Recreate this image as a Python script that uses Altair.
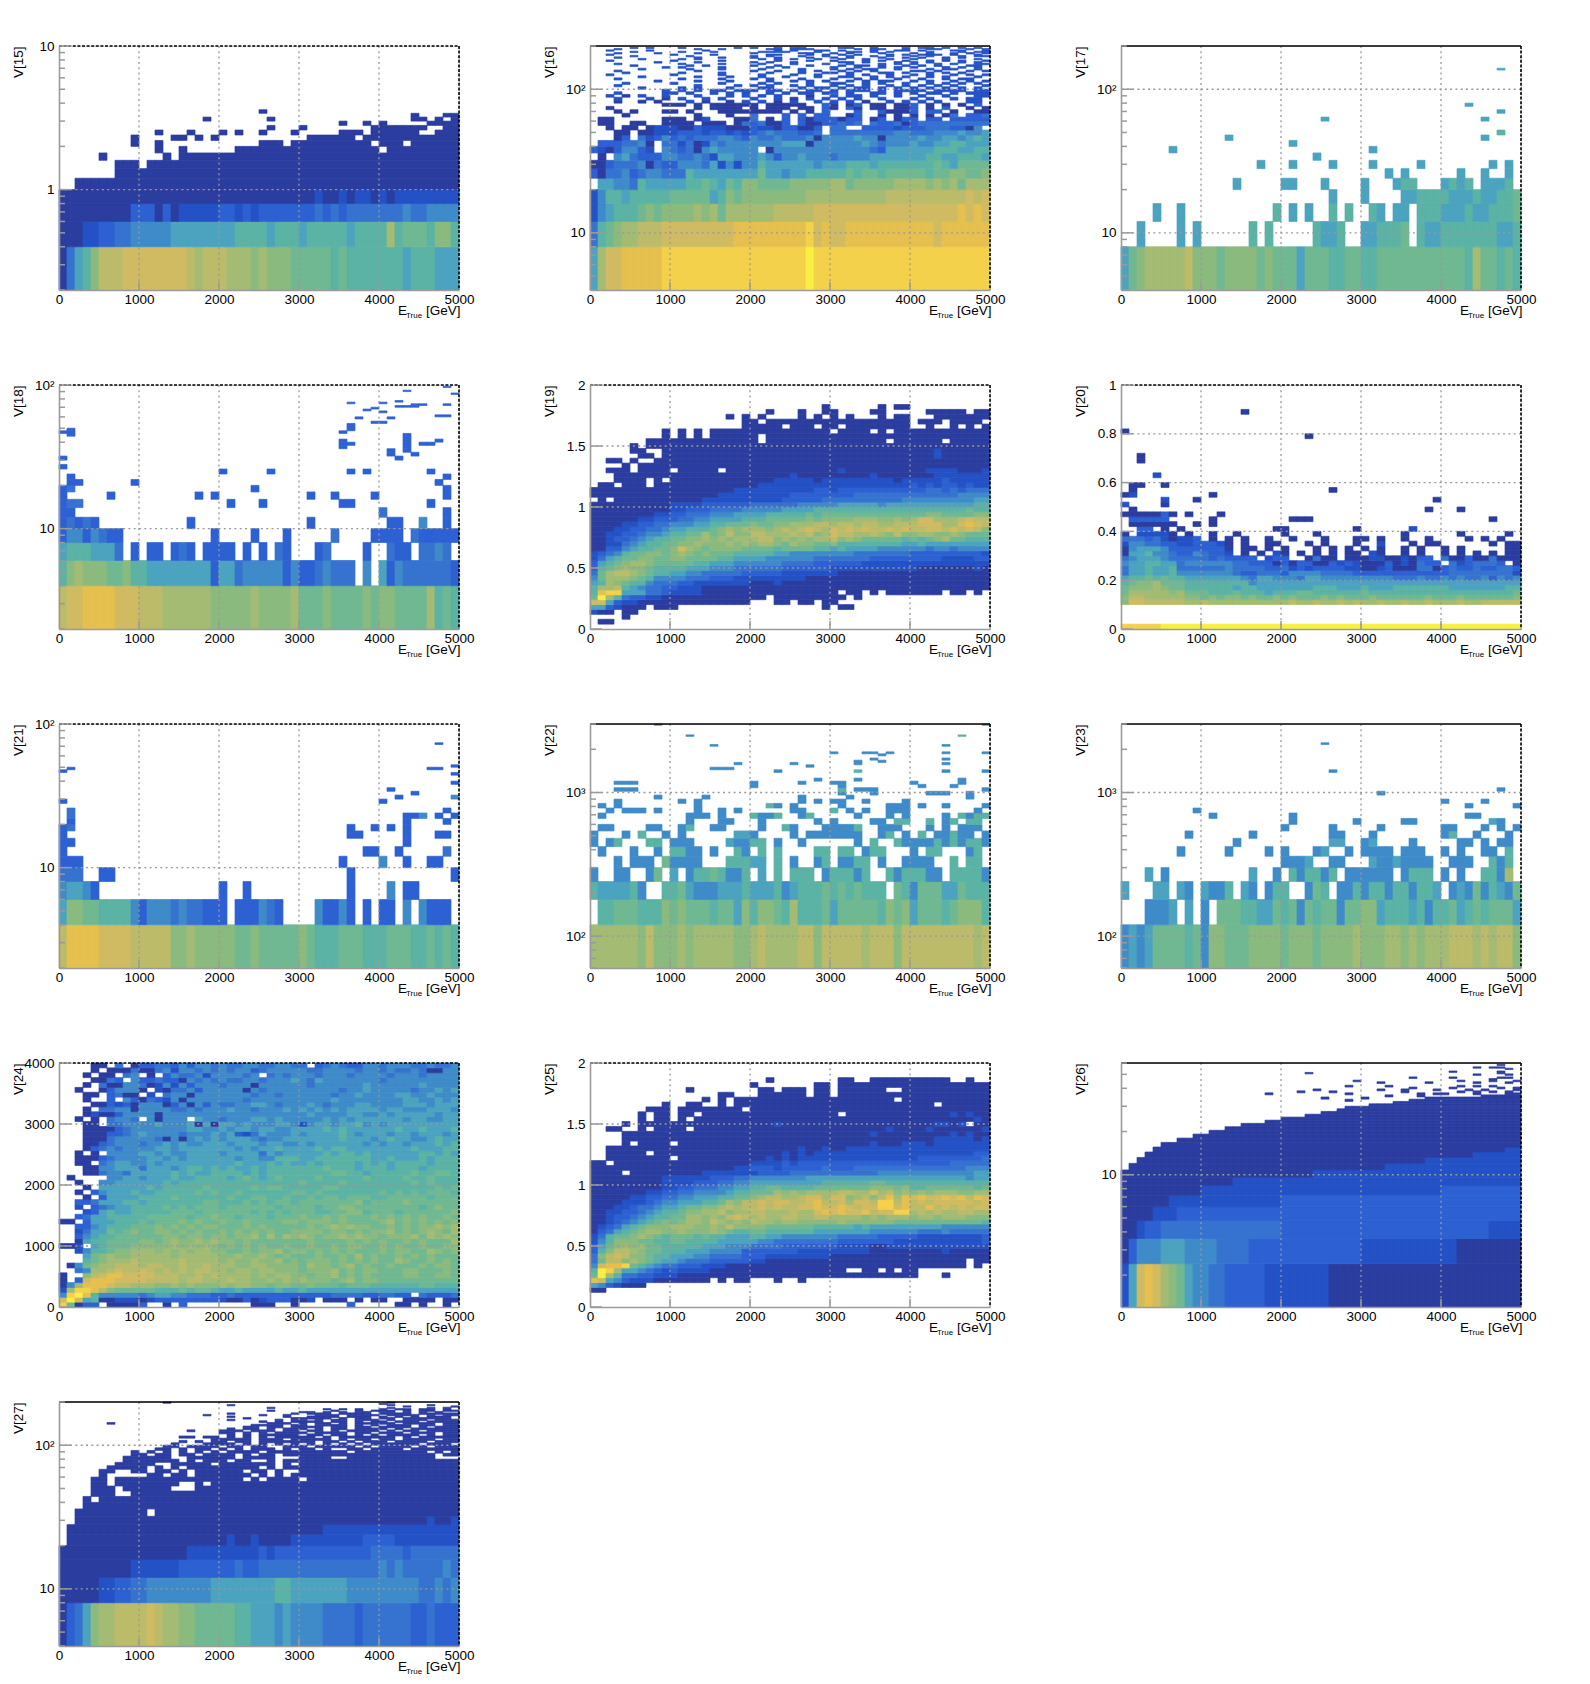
from __future__ import annotations

import altair as alt
import pandas as pd

W, H = 400, 244
BIRD = ["#2c3da0", "#2452c6", "#2d61d3", "#3673d0", "#3f8bc9", "#4ba3c0", "#5bb3a5", "#70b892",
        "#8bba7f", "#a3bb73", "#bcbb6a", "#d0bb62", "#e6c04f", "#f4d14b", "#f9ef43"]
LEVELS = "123456789abcdef"
X_TICKS = [0, 1000, 2000, 3000, 4000, 5000]

# every string is one row of 50 cells (100 GeV each), lowest row first, "." is an empty cell
V15 = [
    "14679bbbcc ccccccbabb baaa9a9998 8888787777 7776777666",
    "1112233445 5555666666 6677776777 6777776777 7a78887997",
    "1111111113 3313122222 3323233333 3343434444 4445445555",
    "1111111111 1111111111 1111111111 1121121221 2122222222",
    "..11111111 1111111111 1111111111 1111111111 1111111111",
    ".......111 1111111111 1111111111 1111111111 1111111111",
    ".......111 .111111111 1111111111 1111111111 1111111111",
    ".....1.... ...1.11111 1111111111 1111111111 1111111111",
    ".......... ..1..1.... ..11111111 1111111111 .111111111",
    ".........1 ..1....... .....111.1 111111111. 111.111111",
    ".........1 ....11.1.1 .......... .111111.11 1111111111",
    ".......... ..1...1... 1.1..1...1 .....111.1 11111..111",
    ".......... .......... ......1... 1........1 111111..11",
    ".......... .......... .......... .....1..1. 1.....1111",
    ".......... ........1. ......1... .......... ....11.1.1",
    ".......... .......... .......... .......... ....1...11",
    ".......... .......... .....1.... .......... ..........",
]
V16 = [
    "6accddddde eeeeeeeeee eeeeeeefee eeeeeeeeee eeeeeeeeee",
    "4789aabbbc ccccccccdd dddddddecd ccdddddddd dddcdddddd",
    "2567778989 999a9a8aaa aaabbbbbcc cccccccccc ccccccdcdc",
    "2577677777 8888867989 9999999aaa aaaaaaabbb bbbbbbbcbc",
    ".665547666 6677876879 9888899999 aa899999aa aa9a9a8aaa",
    "3144534554 4476666666 6866566777 7787887888 8878899889",
    "1134445143 3555462525 5766666656 6677767777 7778768888",
    ".1.5643335 5445426655 5653556555 4555566666 6677667776",
    "32135532.5 4341565555 5.15555555 5555543666 6667776677",
    ".3334451.4 4241254555 5555666155 5555654555 6556677666",
    "...13.4235 3434445543 5445444515 5556551555 5655665676",
    "...11.1122 2333233232 345444334. 4444444455 4445556556",
    "..1.11.122 2113222111 322133113. 44..333323 334443315.",
    ".11..11..1 111.111.14 34113.3113 3434.43341 3444444444",
    ".11......1 11.12...11 4.1.3.3133 3133.13.13 3.33.33333",
    "....1..... ...1...1.. 4...3.3.33 ..13..1.1. 1.1.14.334",
    "...1.1...1 1.1...1111 1111.1.1.3 ...3..3111 3.33.1..11",
    "..1....... ...1.1111. 1.111.11.3 1.31.11.11 3.1.3..1.1",
    ".........1 11.1.11111 1.11111..3 1.13.11.11 3.1.1.1.3.",
    "...1..1.1. ..2.1..1.2 .2.1.2..2. 2.2.1..2.2 .2.2...22.",
    "...2...2.1 .2..2.2... 2..2.1.2.2 .2.2..2... 2.2..2.22.",
    "..2.1.2..2 ...2...2.2 .2.2...1.. 2.22.2..2. .2..2...22",
    "...2.....2 2.2..2.2.2 ..2.2.22.2 3.2..22.2. 2.22.2.222",
    ".........2 .2.2.22.22 2.22.2.22. 2.222.2.22 22.2222.22",
    "......2... .2.2...2.. .22...2.22 .2.22.2.2. 2.2.2.2.2.",
    "...2...... ...2....2. 2.2..2.2.. 2.2.2..2.2 .2.2.2...2",
    "....2..... 2.....2... .2.2...2.. 22..2.2..2 ..2.2.2.2.",
    "........2. ...2...2.. ..2..2.2.2 ..2.2.22.. 2.2..2.2.2",
    "...2...... .2....2... 2.2...2... 2..2.2..2. .2..2.22..",
    "......2... ...2...2.. .2..2...2. .22..2.2.2 ..2.2...2.",
    "..2....... 2.....2... .2...2..2. ..2.2..2.. 2.2..2.2.2",
    "....2..... .2....2... ..2...2..2 2.2...22.2 ..2.2.2...",
    "...2...... ...2...... 2..2..2.2. .2.2.2.... 22.2...2.2",
    "......2... ..2...2... .2....2... 2.2.22..2. ..2.22..2.",
    ".........2 .2....2... ..2.2..... 2..2..2.2. 2...2.2.2.",
    ".....2.... ..2.2..... 2..2...2.. .2.22.2..2 .2.2...22.",
    "...2...... .2....2... .2...2...2 ..2...2.2. 2..2.2..22",
    "........2. ...2...... 2.2..2.... .22.2...2. 2.2...2.2.",
    "..2....... 2.....2... ...2...2.. 2...2.2..2 ..2.2.2..2",
    "......2... .2.2...... .2.2.2..2. .2..2..2.. 2...2...2.",
    "...2...... ...2..2... 2..2...2.. 2.2...2..2 .2..2.2...",
    ".....2.... ..2....... 2.2...2..2 ..2..2.2.. 2.2...2.22",
    "..2....... 2....2.... ..22...2.2 .2.2...2.2 .222.2..2.",
    "...2....2. ...2...... 2.....22.. 2.2...2... 2.2..2.2.2",
    ".....2.... .2...2.... .2222...2. ..22.2.2.. ..2...2.22",
    "..2....2.. ....2..... ...2.2..22 .2...2..22 .2...22..2",
    "...2...... ...2..2... ..22.222.. ...2.22..2 ..22...2.2",
    ".....2.2.. .2......2. 2..2.22... .22..2...2 .22.2.2.2.",
]
V17 = [
    "689aaaaab9 9989999898 8868887788 7788888888 8887a88787",
    "..6....6.6 ......7.7. ....7667.. 667778.766 7777777667",
    "....6..6.. .........7 .6.6..7.7. .76.66.777 6667667778",
    ".......... .......... ......6... 6....66777 7666766778",
    ".......... ....6..... 66...6.... 6...677... 6767.6667.",
    ".......... .......... .......... ...6.6.... ..6..6..6.",
    ".......... .......6.. .6....6... .6.....6.. ......6.6.",
    ".......... .......... ....6.....",
    "......6... .......... .......... .6........",
    ".......... .......... .6........",
    ".......... ...6...... .......... .......... .....6....",
    ".......... .......... .......... .......... .......7..",
    "", "",
    ".......... .......... .....6.... .......... .....6....",
    "",
    ".......... .......... .......... .......... .......6..",
    "",
    ".......... .......... .......... .......... ...6......",
    "", "", "", "", "", "", "", "", "", "", "", "", "", "",
    ".......... .......... .......... .......... .......6..",
]
V18 = [
    "bccddddccc bbbaaaaaa9 9999a9999a 8889888898 998888a787",
    "79a9998897 7666666663 6645555535 3345444.5. 6354444443",
    "67776664.3 .33.343.33 33.3.3.43. ..34....3. .433.4454.",
    "35535433.. .........3 ....3...3. ....4....3 333.433333",
    "34343..... ......3... .......... .3........ .33..5..3.",
    "33........ .......... .......... .......... 4.......3.",
    "344....... .......... .3...3.... .....33... ......3...",
    "3.....3... .......3.3 .......... .3..3....3 ........3.",
    "34........ .......... ....3..... .......... ........3.",
    ".33......3 .......... .......... .......... .......3..",
    ".3........ .......... .......... .......... ........3.",
    ".......... .......... 3.....3... ......3.3. ......3...",
    "3",
    "",
    "3......... .......... .......... .......... ..3.......",
    ".......... .......... .......... .......... .3..3.....",
    ".......... .......... .......... .......... .3.3......",
    ".......... .......... .......... .....3.... ...3......",
    ".......... .......... .......... .....33... ...3.33...",
    ".......... .......... .......... .....3.... ...3...3..",
    ".......... .......... .......... .......... ...3......",
    ".3........ .......... .......... .......... ...3......",
    "33........ .......... .......... .....3.... ..........",
    ".3........ .......... .......... ......3... ..........",
    ".......... .......... .......... ......3... ..........",
    ".......... .......... .......... ......3... ..........",
    ".......... .......... .......... .........3 3.........",
    "",
    ".......... .......... .......... .......3.. .3........",
    ".......... .......... .......... .......... .......33.",
    "",
    ".......... .......... .......... .......... 3.........",
    ".......... .......... .......... ........3. ..........",
    ".......... .......... .......... .........3 ..........",
    ".......... .......... .......... .......... ..333.....",
    ".......... .......... .......... .......... ....33..3.",
    ".......... .......... .......... ......3... 3.........",
    ".......... .......... .......... .......... ..3.......",
    "", "", "", "",
    ".......... .......... .......... .......... .........3",
    "",
    ".......... .......... .......... .......... ...3......",
    "", "",
    ".......... .......... .......... .......... ........3.",
]
V19 = [
    "", ".11.......", "....1.....", "211.11....",
    "6632111.11 1......... .........1 .11.......",
    "cc63221111 1111111111 ...11.11.1 1.........",
    "8fa7433221 1111111111 11.1111111 11.1......",
    "7dee666443 2222111111 1111111111 1.11.1.111 1111.11.1.",
    "7aab765443 3222111111 1111111111 1111111111 1111111111",
    "67a9877544 4332222222 1112111111 1111111111 1111111111",
    "58aaa98755 5544433322 2222222111 1111111111 1111111111",
    "48abba9877 6655444443 3333222222 2111111111 1111111111",
    "3789a99877 7766655544 4444333333 2222222222 2111111121",
    "36789aa988 8887766655 5555444433 3333222222 2222222222",
    "2467889988 9988887766 6655555544 4444433333 3333222233",
    "2345788998 9a98988877 7776655555 5554444444 3333333332",
    "1133567788 9ca9899998 8887888877 6766665555 5545545555",
    "1122456778 899a999a9a 9aa98a9988 9777777776 6766666666",
    "1123345677 8899a9a9aa abb9a9a9aa b9a9888887 8789a88777",
    "1122334556 7788a89b99 bbaaabab9a cbbaaba9b9 9aa99a9888",
    "1112233445 6677789a9a aa9ababcba cbcbcbbcbc bbccbcbcb9",
    "1111223344 5556677888 98899aaabb abbabbaabb bcccaacdcb",
    "1111112233 3445566667 7788888989 999aaa99a9 accaaabcbb",
    "1111111122 3344455566 6677777878 8888888888 8899888899",
    "1111111111 2233344445 5555666677 7777777777 7777777877",
    "1111111111 2222333333 4444445555 5666665666 6666666677",
    ".1.1111111 1111222222 2222333334 4444444445 5555555566",
    "1111111111 1111112222 2222233333 3334444444 4444445555",
    "1111111111 1111111122 2222222233 2333333333 3344343444",
    ".11.111.11 1111111111 1222222222 2222222222 3232332322",
    "...1111.1. 1111111111 1112222212 2222222212 2222322222",
    "...1111111 1111111111 1111121111 1111121111 1112222222",
    "..111.1111 .11111.111 1111111111 1211111111 1122221112",
    "....1.1111 1111111111 1111111111 1111111111 1111111111",
    "..11.1..11 1111111111 1111111111 1111111111 1111111111",
    "......11.1 1111111111 1111111111 1111111111 1112111111",
    ".....11..1 1111111111 1111111111 1111111111 1112111111",
    ".....1.111 1111111111 1111111111 1111111111 1111111111",
    ".......111 1111111111 1.11111111 1111111.11 1111.11111",
    ".........1 .1.1.11111 1.11111111 1111111111 1111111111",
    ".........1 .1.1.11111 1111111111 .1111.1.11 1111111111",
    ".......... .........1 1111.111.1 1.11111111 ..1..1.1.1",
    ".......... .........1 1.11111111 1111111111 .111.1111.",
    ".......... .......1.1 .1....1.1. 1.1...1.11 ...1111111",
    ".......... .......... ..1...1..1 1....11... ..11111.11",
    ".......... .......... .........1 ......1.11 ..........",
]
V20 = [
    "eeeeefffff ffffffffff ffffffffff ffffffffff ffffffffff",
    "", "", "", "",
    "9ccbbbbbaa baaaaaaaaa abaabaabab aabaabaaba aabaabbbbb",
    "9bbaaaaa99 8989989889 8988898988 8988888898 8898888889",
    "8aaaaa9a88 8777877767 7788777777 8777777777 7777777778",
    "8999a98877 7777677666 6666777666 7666777777 7666666677",
    "7899a88877 7777775666 6666666666 6666666666 6666666666",
    "6778787766 6666654665 5546655555 5555444544 5454453545",
    "4667667555 5555433444 3555544443 3333333333 3444444442",
    "4667667444 4445444433 4232333322 1123111441 3433433443",
    "5667766455 5555443331 3133113232 1113121433 .4234443.1",
    "4566654444 4343333.23 3..1411.11 122112133. 4113114111",
    "1667554335 4332.1.1.2 1.1.1.1.11 .21..1.1.. 1.1.1.1.11",
    "1566653333 3331.11.1. 1...1.1.1. 1.1..1.1.. 1.1.....11",
    "2554433223 3321.1..11 ...1.1...1 ..2...1.11 ......1.11",
    "4443421223 .1.1.1..1. .1...1...1 1.1..1..1. ...1.1.1..",
    "1.22221.1. .1..1..... 1...1..... .....1.... ..1.....1.",
    "..33.1.1.. .........1 1........1 ......2...",
    ".111111..1 .1........",
    ".33333.... .1........ .111...... .......... ......1...",
    "1111131.1. ..1.......",
    ".1........ .......... .......... ........1. ..1.......",
    "2....1....",
    ".....2...1 .......... .......... .........1",
    "12........ .1........",
    ".1........ .......... ......1...",
    ".11..1....",
    "",
    "....2.....",
    "", "", "..1.......", "..1.......",
    "", "", "",
    ".......... .......... ...1......",
    "1.........",
    "", "", "",
    ".......... .....1....",
]
V21 = [
    "bddddccccb bbbb99a999 9988988888 9877788877 7888778787",
    "6998877775 3555454433 3.333543.. ..53353.3. 33.5.5333.",
    "56653..... .......... 3..3...... ......3... .5.33.....",
    "444..33... .......... .......... ......3... .........3",
    "333....... .......... .......... .....3.... 5..3..33..",
    "3......... .......... .......... ........33 ..3.....4.",
    "33........ .......... .......... .......... ...3......",
    "3......... .......... .......... ......33.. ...3...33.",
    "34........ .......... .......... ......3..3 .3.3......",
    ".3........ .......... .......... .......... ...3....3.",
    ".4........ .......... .......... .......... ...335.3.3",
    ".4........ .......... .......... .......... ........3.",
    "",
    "3......... .......... .......... .......... 3.........",
    ".......... .......... .......... .......... ..3......5",
    ".......... .......... .......... .......... ....3.....",
    ".......... .......... .......... .......... .3........",
    "",
    ".......... .......... .......... .......... .........3",
    "", "",
    ".......... .......... .......... .......... .........3",
    "3......... .......... .......... .......... ..........",
    ".3........ .......... .......... .......... ......33..",
    ".......... .......... .......... .......... .........3",
    "", "", "", "", "", "", "", "", "", "",
    ".......... .......... .......... .......... .......3..",
]
V22 = [
    "aaaaaa9b99 9a9aaaaa99 abaaaabb9b bbbbabbb9b bbbbbbbbab",
    ".778887779 8988878869 79987a7778 6888887989 6888789997",
    "7666675..7 7865556667 6667567778 7878777.87 5888668777",
    "5..55..58. 6.57787557 .6.7.777.5 77757..757 7755.77775",
    "...5.555.8 5555...777 66.7.5..57 .5577.5..5 555..7.77.",
    ".5...5..5. 7755.5..75 .7.7....77 .77.577... 5.77...57.",
    "5.57...77. 555....655 77.5..5... ...5.7..75 5557575775",
    "5...5.7..5 .5......66 5....5.555 5555..57.5 .7.55755.5",
    ".55....55. .57..55... .5..75...5 5557..555. ..5.5.555.",
    ".......... ..5...55.. .5......5. 5....55.77 ..7.57.77.",
    ".5........ ..555.5... 7557..57.. ...5...5.5 ....5.7577",
    "..5.555.5. ...5..5.5. .....55... 7.5.5..555 ........5.",
    ".5.5...... ...5...... ..75.5.... .5.....555 .5..5....5",
    "...5...... .5.5...... ......5.5. 55..5....5 ..........",
    "........5. ....5..... ......5... ..5....... .......5..",
    ".......... .......... .......... .5...5.... ..555..5..",
    "...555.... .......... .......... .7.555.... .........5",
    ".......... .......... 5......... .5........ .5...5....",
    "...555.... .......... 5.....5... 55........ 5.....5...",
    ".......... .......... ........5. ...5...... ......5...",
    "", "",
    ".......... .......... ...5...... ...7...... ....5....5",
    ".......... .....555..",
    ".......... .......... .......5..",
    ".......... ........5. .....5.... ...5...... ....5.....",
    ".......... .......... .......... ...5..5...",
    ".......... .......... .......... .....5.... ....5.....",
    "",
    ".......... .......... .......... ......5...",
    ".......... .......... .......... 5...55.5.. ....5....5",
    "", "", "",
    ".......... .....5.... .......... .......... ....5.....",
    "", "", "", "", "",
    ".......... ..5....... .......... .......... ......7...",
    "", "", "", "", "", "", "",
    "........5. .......... .......... .......... .........5",
]
V23 = [
    "5656888878 5998889999 899989999a 999aa9a9aa abbbababb9",
    "...5556.6. 5.88877668 7858788588 9967776757 7867878886",
    "6...66.65. 6557.65.57 7..587.557 5775775776 .565857658",
    "...6.5.... ......6..5 .757757.55 5555.5777. 5.5..775a.",
    ".......... .......... 5556..55.. .65565555. .555..757.",
    ".......5.. ...5....5. 5...56..5. 5555.555.. 5.5..55.7.",
    ".......... ....5..... ......66.. 56....5... ..55.5.55.",
    "........5. ......5... ......55.. .5........ 57..5...5.",
    ".......... .......... 5.....5... ..5....... 55...5.5.5",
    ".......... .......... .5.......5 .....55... ......65..",
    ".......... .5........ .5........ .......... ...55.....",
    ".........5",
    ".......... .......... .......... .......... ...5.....5",
    ".......... .......... .......... .......... 5....5....",
    "",
    ".......... .......... .......... ..5.......",
    ".......... .......... .......... .......... .......5..",
    "", "", "", "", "",
    ".......... .......... ......5...",
    "", "", "", "", "", "", "", "", "", "", "", "",
    ".......... .......... .....5....",
]
V24 = [
    "e8133.1111 3..1.3.... ....111..1 ......3... ..11.1..1.",
    "cfc6711222 1233333333 2113123331 12.111.1.1 1..1111.11",
    "5efd755555 4566554443 3433333333 3333444433 4433.43334",
    "2aeedb9888 8877787887 6676666766 7666666666 6666666666",
    "15adddcbba aa99a9a999 a9aa998998 8988878887 7777788777",
    "1.3cdddccc cbbbbabbaa abaa99a9a9 a99989a899 8888888888",
    "1..9bcddcc ccbbbaabab aaaa9a9aa9 9899a89898 8889988998",
    "..45aabcbb cbabababba a9aa9aa999 8999a89899 8889988898",
    ".1589aabbb abbaabaaba aa99aa9999 8a9989a898 8988898998",
    "...789aaab aaaaabaaaa 9a99a99a89 8999898989 88a9889898",
    "...689a99a aaaa9aaaaa 99a99a9898 8898898a89 8898989888",
    "..2577899a aa9a9a9aa9 9889899a89 9898989888 989988a989",
    "112.678889 9999a9a9a9 8989898898 8988989988 9898898899",
    "..16778888 9989a99a9a 9989888888 8988889898 988989888a",
    "..35677888 8889989989 9899a8a8a9 a9899a9a99 8999a8a9a9",
    "..24668789 8899898988 9898989889 9998998989 9a8989a98a",
    "..33567778 8898989899 8889898888 8989a9a998 8989899a9a",
    "11.3666777 8788898988 9889888899 8999898888 9a89898989",
    "..34667777 7888887889 8878887888 9889898889 8989898898",
    "...2367667 7777888788 8888787878 8877889978 8878888889",
    "..2.345667 7778787888 7888888788 8878899888 8888878988",
    "..33466677 6777777788 7778787887 8888888978 8889888888",
    "...1.36666 7777877777 7877887787 7878878887 7888887888",
    "..1.356667 6677777878 7787777778 8787777777 8787878887",
    "...1.66666 6767777787 7777878877 7778877777 7777777878",
    "..1..55666 6667677777 7777777777 8777787777 7777878777",
    ".1....5566 5666766777 7678767877 7787777787 7778778777",
    "...1145546 6666767667 7776767777 7777887767 7777877887",
    "...1155666 4666567767 6766767777 7778777677 7677767777",
    "..11.45665 5656666666 6676667676 6767777676 7677776777",
    "..11134555 5665656666 6656655777 6677777776 6766676777",
    "..1.1.5555 6656556666 5666646566 6667677676 6666677676",
    "...1345455 5566566666 6656566766 6676776666 6666766677",
    "...1134555 4556565566 6566656655 6566666656 5665666767",
    "...1114555 5541515656 5666545566 6666676665 6766556766",
    "...1113345 6555545556 5632465556 5666676566 6566566656",
    "...1111345 5555556655 6566566556 6667676666 6676676667",
    "...11.4455 5565556161 6656555665 2566566756 5666666666",
    "..1.1.4554 .51555.655 4555665655 5556565666 6665665566",
    "...1211355 5515555555 5555555555 5655556655 6566666566",
    "...1.44551 5555445455 5655455565 6565656666 5665556665",
    "....113231 5551351535 4455665455 5654555665 5556665666",
    "...1..3.53 1432515555 5554555555 5555655555 5556655656",
    "...11.3411 .2.4551555 5555455455 5555455655 5566556555",
    "..1..13555 1.21445355 5551545555 5555545565 5555455656",
    "...1.41155 4125253555 4555155555 5455555565 5555565555",
    "....1143.5 3343315454 5445545556 5465555555 4555555555",
    "...1.11.45 .1.3544525 55545.4545 5545554555 5455545555",
    "....1.1114 1145255454 5455345555 5445555455 4544541155",
    "....11.4.1 3344353554 5445544554 4.34543355 4555445445",
]
V25 = [
    "", "", "", "11.......",
    "6532111...",
    "dc65322211 11111.1.11 ...1..1... ..........",
    "8fa7443322 2111111111 1111111111 1111111111 1...1.....",
    "7fea665432 3222211111 1111111111 11..11.1.1 1.........",
    "5cdde87654 4333222111 1111111111 1111111111 1111111.1.",
    "48bb9a9876 6544433333 2211111111 1111111111 1111111.11",
    "49bcb99877 6665544443 3322222222 1111111111 1111111111",
    "379bba9887 7766655553 3333332222 2222211111 1111211111",
    "3689a9a887 7777666555 4444333333 3222211222 2222222222",
    "2579998877 8877776666 6554444444 4333333322 2222222223",
    "247889a987 8887877666 7766555555 5444443333 3222222223",
    "1346789aa9 9a999a9877 8877777766 6666655555 5444544444",
    "1234678999 aaa99a9b99 9988888877 7776766666 6666555555",
    "1123456789 89aa9ba9a9 baa9aa9999 9a99999988 8888888887",
    "1123345677 88aa9a9bcb abaabbaabb aaaa9a9aaa 9aa9aaa999",
    "1122334567 7899aab9aa bbaaabaacd cdccdbccee ababaabbaa",
    "1112234456 678899abab bcbcbbccdc cdcbcceecd bbdbcbcbcc",
    "1111222345 5666778a9b bcbccbbcdb bcaccbeebd bcbcccccbc",
    "1111122334 4556667788 9abbaabcca cc9ab9bdad cdccdcdbdc",
    "1111111223 3445555677 888a9a9aaa abbaacab9a 9a9aaa99aa",
    "1111111112 2334445566 7788777788 8888899989 7788888878",
    "1111111112 2223334455 6666666667 7777788777 7777777777",
    "1111111112 2222233344 5555555666 6666666666 6666666566",
    "1111.11111 1111222222 2333344444 4444445555 5555555566",
    "1111111111 1111111122 3332333334 3334444444 4444444555",
    "11.1111111 1111111111 2222323333 3333333333 3333344444",
    "..11111111 .111111111 1121212222 2222222222 2333333334",
    "..11111.11 1111111111 1111212122 2222222222 2222222233",
    "..11111111 1111111111 1111112112 1122222222 2222222222",
    "....1.1111 .111111111 1111111111 1111121112 2212222222",
    "....111111 1111111111 1111111111 1111111111 1112222212",
    "....111111 1111111111 1111111111 1111121111 1111121211",
    "..11..1.11 11.1111111 1111111111 1111111211 1121111112",
    "....1.1111 1111111111 1112111111 1111111111 1112212.11",
    "......1.11 .1.1111111 1111111111 1111111111 1111111121",
    "......1.11 .11.111111 1111111111 1.11111111 1111121211",
    ".......111 .11111111. 1111111111 1111111111 1111111111",
    ".........1 ..11..1.11 1111111111 1111111111 111.111111",
    ".......... ....1.1.11 1111111111 11111111.1 1111111111",
    ".......... ......11.. .111111.11 .111111111 1111111111",
    ".......... ..1....... .11.111.11 .111111..1 1111111111",
    ".......... .......... 1.......11 .111111111 1111111111",
    ".......... .......... ..1....... .11..11111 11111..1..",
]
V26 = [
    "26cdca9865 5443333322 2222221111 1111111111 1111111111",
    "1355566655 5544443333 3333333333 2222222222 2211111111",
    "1123344444 4444444444 3333333333 3333333333 3333332222",
    "1111222333 3333333333 3333333333 3333333333 3333333333",
    "1111112222 2222222222 3333333333 3333333333 3333333333",
    "1111111111 2222222222 2222222222 2222222222 3333333333",
    "1111111111 1111222222 2222222222 2222222222 2222222222",
    "1111111111 1111111111 1111222222 2222222222 2222222222",
    ".111111111 1111111111 1111111111 1112222222 2222222222",
    "..11111111 1111111111 1111111111 1111111122 2222222222",
    "...1111111 1111111111 1111111111 1111111111 1111222222",
    "....111111 1111111111 1111111111 1111111111 1111111122",
    ".....11111 1111111111 1111111111 1111111111 1111111111",
    ".......111 1111111111 1111111111 1111111111 1111111111",
    ".........1 1111111111 1111111111 1111111111 1111111111",
    ".......... .111111111 1111111111 1111111111 1111111111",
    ".......... ...1111111 1111111111 1111111111 1111111111",
    ".......... .....11111 1111111111 1111111111 1111111111",
    ".......... ........11 1111111111 1111111111 1111111111",
    ".......... .......... 1111111111 1111111111 1111111111",
    ".......... .......... ...1111111 1111111111 1111111111",
    ".......... .......... .....11111 1111111111 1111111111",
    ".......... .......... .......111 1111111111 1111111111",
    ".......... .......... ........11 1111111111 1111111111",
    ".......... .......... .......... .111111111 1111111111",
    ".......... .......... .......... ....111111 1111111111",
    ".......... .......... ........1. ......1111 1111111111",
    ".......... .......... .....1.... 1.......11 1111111111",
    ".......... .......... .......... ...1...1.. .....11111",
    ".......... ........1. ........1. .......1.1 1...1...11",
    ".......... .......... ..1...1... .....1.... ..1.1.1.1.",
    ".......... .......... ....1..... ..1..1...1 ...1.1...1",
    ".......... .......... .......... ......1... .1.....1.1",
    ".......... .......... ........1. ...1...... ..1.1.1...",
    "",
    ".......... .......... .......... ..1.....1. ....1...1.",
    ".......... .......... .........1 .......... ..1...1..1",
    ".......... .......... .......... .......... ......1...",
    ".......... .......... .......... ......1... .1.....11.",
    "",
    ".......... .......... .......... .......... ....1...1.",
    ".......... .......... ...1...... .......... .......1..",
    ".......... .......... .......... .......... .1.....1..",
    "",
    ".......... .......... .......... .......... ........1.",
    ".......... .......... .......... .......... ....1.11..",
    "",
    ".......... .......... .......... .......... .......1..",
]
V27 = [
    "13469aabbb bcbaa99888 8877666565 5554444344 4444334333",
    "1111122334 4555555556 6666666776 6666665555 5555544545",
    "1111111112 2222233333 3343344444 4444444444 5454444454",
    "1111111111 1111112222 2222232333 3333333334 4443444444",
    ".111111111 1111111111 1211211112 2222222233 3322222222",
    ".111111111 1111111111 1111111111 1112222222 2222222222",
    "..11111111 1111111111 1111111111 1111111111 1111112112",
    "..11111111 1.11111111 1111111111 1111111111 1111111111",
    "...1111111 1111111111 1111111111 1111111111 1111111111",
    "...1.11111 1111111111 1111111111 1111111111 1111111111",
    "....111..1 1111111111 1111111111 1111111111 1111111111",
    "....111.11 1111...111 1111111111 1111111111 1111111111",
    "....11.111 11111..1.1 1111111111 1111111111 1111111111",
    "....11.111 1111111111 111.1.1111 .111111111 1111111111",
    ".....1.... .11.11.111 1111.1.1.1 1111111111 1111111111",
    ".....11..1 1.11.1.111 111.11.1.. 1111111111 1111111111",
    "......1111 1.1.1.1111 11111.1.11 1111111111 1111111111",
    ".......111 11..11111. 1111111.1. 1111111111 1111111111",
    "........11 11111.1.11 1.11..1.11 1111111111 1111111111",
    "........11 1111..1111 11.1111... 1111..1111 1111111...",
    ".........1 1.11.11.11 11.1.11.11 1111111111 1111111.11",
    ".........1 .1.1.1.1.1 .1111.1111 111111.111 111111.1.1",
    ".......... ..11.1.11. 1.1.111.1. 11.1..11.1 111.111111",
    ".......... ...11.1111 .11.11..11 1.11111.1. 1111.1.111",
    ".......... ....1...11 11.1.1.1.1 .1.1.1.1.1 11111.111.",
    ".......... .....1.1.1 1.11.11111 11.11.1.11 1.1111.111",
    ".......... .........1 1111.111.1 1111.1.11. 11.1111.11",
    ".......... .....11.11 .1.1.1.111 11.1.11111 11.1.11111",
    ".......... .......... .1.1.11111 .11.11.1.1 .1111.1.11",
    ".......... .......... 11.1.1.111 1.1111.11. 111.111.11",
    ".......... ......1... 111.111.11 .11.1.1111 .1.11.1111",
    ".......... .......... .1.11.1.11 1.1.11.111 1.1.111111",
    ".......... .......... ...11.11.1 111.11.11. 1111.1.111",
    ".......... .......... ....1111.1 1.1111.1.1 .111.11.11",
    "......1... .......... ......111. 1.11.1.111 11.1111.11",
    ".......... .......... .....1.1.1 111.11.1.1 1.111.1111",
    ".......... .......... .1.....1.1 1.1.11.111 .1.111.111",
    ".......... .......... ...1.....1 1111.1.11. 11.111111.",
    ".......... .......... .1......1. .1111.111. 1.1.1.111.",
    ".......... ........1. .....1..1. ..111.1111 .1111.1.11",
    ".......... .......... .1.......1 .111.1111. 1111.11111",
    ".......... .......... .......... 11.1.1.11. 11.1.1.1..",
    ".......... .......... ......1... ....1..1.1 11.1.11.11",
    ".......... .......... .......... ...1.1.1.. 1.11.11.1.",
    ".......... .......... ......1... .......... .1....1.1.",
    ".......... .......... .......... .......... ...1.....1",
    ".......... .......... .1........ .......... .1....1...",
    ".......... .......... .......... .......... 1.........",
    ".......... ...1...... .......... .......... .1........",
]

# name, bin width, bottom, top, log axis, major ticks, minor ticks, solid top edge, rows
PANELS = [
    ("V[15]", 0.2, 0.2, 10, True, [1, 10], [0.2, 0.3, 0.4, 0.5, 0.6, 0.7, 0.8, 0.9, 2, 3, 4, 5, 6, 7, 8, 9], False, V15),
    ("V[16]", 4, 4, 200, True, [10, 100], [4, 5, 6, 7, 8, 9, 20, 30, 40, 50, 60, 70, 80, 90, 200], True, V16),
    ("V[17]", 4, 4, 200, True, [10, 100], [4, 5, 6, 7, 8, 9, 20, 30, 40, 50, 60, 70, 80, 90, 200], True, V17),
    ("V[18]", 2, 2, 100, True, [10, 100], [2, 3, 4, 5, 6, 7, 8, 9, 20, 30, 40, 50, 60, 70, 80, 90], False, V18),
    ("V[19]", 0.04, 0, 2, False, [0, 0.5, 1, 1.5, 2], [], False, V19),
    ("V[20]", 0.02, 0, 1, False, [0, 0.2, 0.4, 0.6, 0.8, 1], [], False, V20),
    ("V[21]", 2, 2, 100, True, [10, 100], [2, 3, 4, 5, 6, 7, 8, 9, 20, 30, 40, 50, 60, 70, 80, 90], False, V21),
    ("V[22]", 60, 60, 3000, True, [100, 1000], [60, 70, 80, 90, 200, 300, 400, 500, 600, 700, 800, 900, 2000, 3000], True, V22),
    ("V[23]", 60, 60, 3000, True, [100, 1000], [60, 70, 80, 90, 200, 300, 400, 500, 600, 700, 800, 900, 2000, 3000], True, V23),
    ("V[24]", 80, 0, 4000, False, [0, 1000, 2000, 3000, 4000], [], False, V24),
    ("V[25]", 0.04, 0, 2, False, [0, 0.5, 1, 1.5, 2], [], False, V25),
    ("V[26]", 1.2, 1.2, 60, True, [10], [2, 3, 4, 5, 6, 7, 8, 9, 20, 30, 40, 50, 60], True, V26),
    ("V[27]", 4, 4, 200, True, [10, 100], [4, 5, 6, 7, 8, 9, 20, 30, 40, 50, 60, 70, 80, 90, 200], True, V27),
]


def cells(rows, bin_w, log):
    out = []
    for i, row in enumerate(rows):
        for j, c in enumerate(row.replace(" ", "")[:50]):
            if c in LEVELS:
                lo = (i + 1) * bin_w if log else i * bin_w
                out.append({"x0": j * 100, "x1": (j + 1) * 100, "y0": lo, "y1": lo + bin_w, "level": LEVELS.index(c) + 1})
    return pd.DataFrame(out)


def one():
    return alt.Data(values=[{"a": 0}])


def label(text, x, y, size):
    return alt.Chart(one()).mark_text(align="left", baseline="alphabetic", fontSize=size, color="black", font="Liberation Sans").encode(
        x=alt.value(x), y=alt.value(y), text=alt.value(text)
    )


def panel(name, bin_w, bottom, top, log, major, minor, solid, rows):
    xs = alt.Scale(domain=[0, 5000], nice=False, zero=False)
    ys = alt.Scale(type="log", domain=[bottom, top], nice=False) if log else alt.Scale(domain=[bottom, top], nice=False, zero=False)
    gray = "#9a9a9a"
    df = cells(rows, bin_w, log)

    y_axis = alt.Axis(
        values=major, ticks=False, grid=False, domainColor=gray, domainWidth=1.6, labelPadding=5, format="~r", labelFontSize=13.5,
        labelExpr="datum.value == 100 ? '10\u00b2' : datum.value == 1000 ? '10\u00b3' : datum.label" if log else "datum.label",
        title=name, titleX=-41, titleY=0, titleAngle=270, titleAlign="right", titleBaseline="middle",
        titleFontSize=13.5, titleFontWeight="normal", zindex=1,
    )
    x_axis = alt.Axis(
        values=X_TICKS, ticks=False, grid=False, domainColor=gray, domainWidth=1.6, labelPadding=2.5, format="d", labelFontSize=13.5,
        labelFlush=False, title=None, zindex=1,
    )
    palette = alt.Scale(domain=list(range(1, 16)), range=BIRD)
    rects = alt.Chart(df).mark_rect(strokeWidth=0.7).encode(
        x=alt.X("x0:Q", scale=xs, axis=x_axis),
        x2="x1:Q",
        y=alt.Y("y0:Q", scale=ys, axis=y_axis),
        y2="y1:Q",
        color=alt.Color("level:O", scale=palette, legend=None),
        stroke=alt.Stroke("level:O", scale=palette, legend=None),
    )

    grid_y = [v for v in major if bottom < v < top]
    dots = dict(color="#999999", strokeWidth=1.3, strokeDash=[2, 3.3])
    layers = [
        rects,
        alt.Chart(pd.DataFrame({"v": X_TICKS[1:-1]})).mark_rule(**dots).encode(x=alt.X("v:Q", scale=xs, axis=x_axis)),
        alt.Chart(pd.DataFrame({"v": grid_y})).mark_rule(**dots).encode(y=alt.Y("v:Q", scale=ys, axis=y_axis)),
        alt.Chart(one()).mark_rule(color="black", strokeWidth=1.6, strokeDash=[1, 0] if solid else [3, 1.6]).encode(
            x=alt.value(0), x2=alt.value(W), y=alt.value(0)
        ),
        alt.Chart(one()).mark_rule(color="black", strokeWidth=1.6, strokeDash=[3, 1.6]).encode(
            x=alt.value(W), y=alt.value(0), y2=alt.value(H)
        ),
        alt.Chart(pd.DataFrame({"v": X_TICKS[1:-1]})).mark_rule(color=gray, strokeWidth=1.5).encode(
            x=alt.X("v:Q", scale=xs, axis=x_axis), y=alt.value(H), y2=alt.value(H - 8)
        ),
        alt.Chart(pd.DataFrame({"v": major})).mark_rule(color=gray, strokeWidth=1.5).encode(
            y=alt.Y("v:Q", scale=ys, axis=y_axis), x=alt.value(0), x2=alt.value(12)
        ),
    ]
    if minor:
        layers.append(
            alt.Chart(pd.DataFrame({"v": minor})).mark_rule(color=gray, strokeWidth=1.5).encode(
                y=alt.Y("v:Q", scale=ys, axis=y_axis), x=alt.value(0), x2=alt.value(6)
            )
        )
    layers += [label("E", W - 61, H + 25, 13.5), label("True", W - 53, H + 28, 8), label("[GeV]", W - 33, H + 25, 13.5)]
    return alt.layer(*layers).properties(width=W, height=H)


chart = (
    alt.concat(*[panel(*p) for p in PANELS], columns=3, spacing=alt.RowColnumber(row=95, column=131))
    .properties(bounds="flush", padding={"left": 2, "top": 30, "right": 0, "bottom": 0})
    .configure_view(stroke=None)
    .configure(font="Liberation Sans")
    .configure_axis(labelFont="Liberation Sans", titleFont="Liberation Sans", labelColor="black", titleColor="black")
)

chart.save("out.html", embed_options={"renderer": "svg", "actions": False})
